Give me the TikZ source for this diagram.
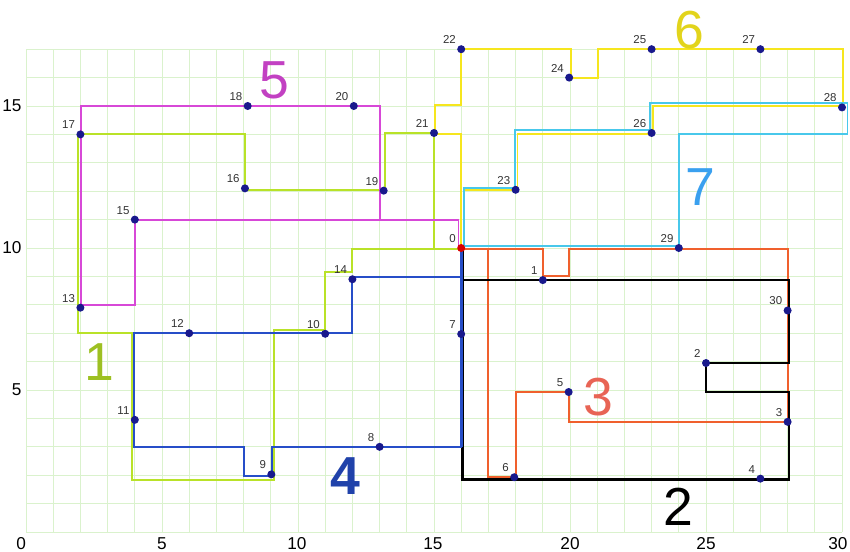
\documentclass[tikz,border=0pt]{standalone}
\usepackage{fontspec}
\setmainfont{Liberation Sans}
\usepackage{tikz}
\usetikzlibrary{calc}
\definecolor{gridc}{RGB}{218,242,205}
\definecolor{rone}{RGB}{185,226,40}
\definecolor{rthree}{RGB}{240,96,45}
\definecolor{rfour}{RGB}{38,78,200}
\definecolor{rfive}{RGB}{215,72,215}
\definecolor{rsix}{RGB}{246,230,30}
\definecolor{rseven}{RGB}{72,200,235}
\definecolor{ptc}{RGB}{25,25,140}
\newcommand{\bignum}{\fontsize{28}{30}\selectfont}

\begin{document}
\begin{tikzpicture}[x=0.5cm,y=0.5221cm,
  route/.style={line width=1pt},
  pt/.style={circle,fill=ptc,inner sep=0pt,minimum size=4.2pt},
  plbl/.style={font=\fontsize{6}{7}\selectfont,text=black!80,inner sep=1pt}]
  \useasboundingbox (-0.956,-0.669) rectangle (30.294,18.732);
  \draw[gridc,line width=0.5pt,step=1] (0,0) grid (30,17);
  \foreach \v/\p in {0/-0.18,5/5,10/9.96,15/14.96,20/20,25/25,30/29.85} {\node[font=\fontsize{9}{10}\selectfont,inner sep=0pt] (x\v) at (\p,-0.4) {\v};}
  \foreach \v in {5,10,15} {\node[font=\fontsize{9}{10}\selectfont,anchor=east,inner sep=0pt] (y\v) at (-0.15,\v) {\v};}
  % routes, each one leaves the depot 0 and comes back
  \draw[route,rone,line width=1.1pt] (16,9.97) -- (12,9.97) -- (12,9.15) -- (11,9.15) -- (11,7.12) -- (9.13,7.12) -- (9.13,1.82) -- (3.9,1.82) -- (3.9,7) -- (1.92,7) -- (1.92,14.02) -- (8.05,14.02) -- (8.05,12.05) -- (13.2,12.05) -- (13.2,14.05) -- (15,14.05) -- (15,9.97);
  \draw[route,rfive] (15.9,10) -- (15.9,11) -- (4,11) -- (4,8) -- (2.03,8) -- (2.03,15) -- (13.02,15) -- (13.02,11);
  \draw[route,rsix] (16,10) -- (16,14.03) -- (15.03,14.03) -- (15.03,15.02) -- (16,15.02) -- (16,17) -- (20.05,17) -- (20.05,16) -- (21.03,16) -- (21.03,17) -- (30.04,17) -- (30.04,15) -- (23.05,15) -- (23.05,14.03) -- (18.07,14.03) -- (18.07,12.03) -- (16.1,12.03);
  \draw[route,rseven] (16.1,10.07) -- (16.1,12.12) -- (17.98,12.12) -- (17.98,14.15) -- (22.95,14.15) -- (22.95,15.1) -- (30.2,15.1) -- (30.2,14) -- (24,14) -- (24,10.07) -- cycle;
  \draw[route,rthree] (16,9.97) -- (19,9.97) -- (19,9.02) -- (19.97,9.02) -- (19.97,9.97) -- (28,9.97) -- (28,3.88) -- (19.95,3.88) -- (19.95,4.93) -- (18,4.93) -- (18,1.93) -- (17,1.93) -- (17,9.97);
  \draw[route,black,line width=1.2pt] (16.05,10) -- (16.05,8.87) -- (28.05,8.87) -- (28.05,5.95) -- (25,5.95) -- (25,4.92) -- (28.05,4.92) -- (28.05,1.85) -- (16.05,1.85) -- (16.05,8.87);
  \draw[route,rfour] (16,10) -- (16,2.98) -- (9.05,2.98) -- (9.05,1.97) -- (8,1.97) -- (8,2.98) -- (3.98,2.98) -- (3.98,7) -- (12,7) -- (12,8.97) -- (16,8.97);
  \draw[rfour,line width=1.6pt] (16,10) -- (16,2.98);
  % customers
  \foreach \n/\x/\y in {1/19/8.87,2/25/5.95,3/28/3.88,4/27/1.88,5/19.95/4.93,6/17.95/1.93,7/16/6.97,8/13/3,9/9.02/2.03,10/11/6.98,11/4/3.95,12/6/7,13/2/7.9,14/12/8.9,15/4/11,16/8.05/12.1,17/2/14,18/8.15/15,19/13.15/12.02,20/12.05/15,21/15/14.05,22/16/17,23/18/12.05,24/19.97/16,25/23/17,26/23/14.05,27/27/17,28/30/14.95,29/24/10,30/28/7.8}
    {\node[pt,label={[plbl]above left:\n}] (p\n) at (\x,\y) {};}
  \node[pt,fill=red!85!black,label={[plbl]above left:0}] (p0) at (16,10) {};
  % route numbers
  \node[font=\bignum,text=rone!85!black] (n1) at (2.68,5.99) {1};
  \node[font=\bignum,text=black] (n2) at (23.97,0.88) {2};
  \node[font=\bignum,text={rgb,255:red,232;green,100;blue,85}] (n3) at (21.03,4.75) {3};
  \node[font=\bignum\bfseries,text=rfour!85!black] (n4) at (11.73,1.97) {4};
  \node[font=\bignum,text=rfive!90!black] (n5) at (9.12,15.92) {5};
  \node[font=\bignum,text=rsix!92!black] (n6) at (24.4,17.68) {6};
  \node[font=\bignum,text=rseven!80!blue] (n7) at (24.8,12.15) {7};
\end{tikzpicture}
\end{document}
